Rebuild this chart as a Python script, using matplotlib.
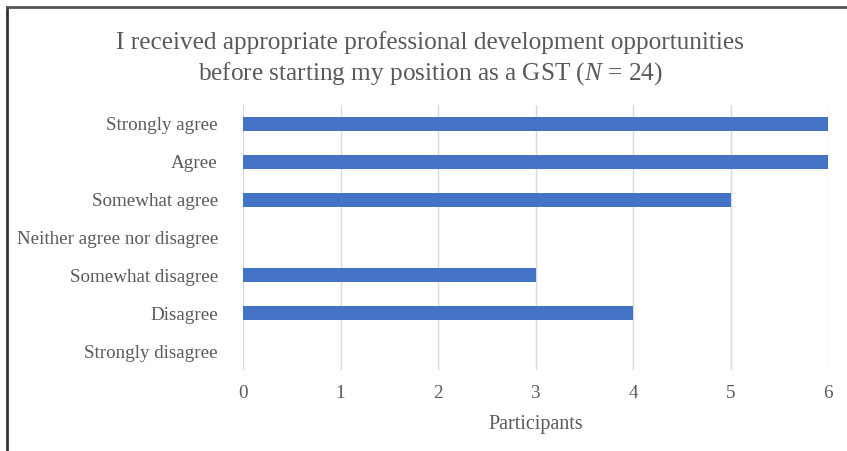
import matplotlib.pyplot as plt
from matplotlib.lines import Line2D

categories = ["Strongly agree", "Agree", "Somewhat agree", "Neither agree nor disagree",
              "Somewhat disagree", "Disagree", "Strongly disagree"]
participants = [6, 6, 5, 0, 3, 4, 0]
x_ticks = [0, 1, 2, 3, 4, 5, 6]

plt.rcParams['font.family'] = ['Liberation Serif', 'DejaVu Serif']
plt.rcParams['mathtext.fontset'] = 'custom'
plt.rcParams['mathtext.it'] = 'Liberation Serif:italic'
plt.rcParams['mathtext.rm'] = 'Liberation Serif'
text_color = '#595959'

fig = plt.figure(figsize=(8.47, 4.51), dpi=100)
ax = fig.add_axes([243 / 847, 1 - 370 / 451, (828 - 243) / 847, (370 - 105) / 451])

pos = list(range(len(categories)))
ax.barh(pos, participants, height=0.37, color='#4472C4', zorder=3)
ax.set_ylim(len(categories) - 0.5, -0.5)
ax.set_yticks(pos)
ax.set_yticklabels(categories)
ax.set_xlim(0, 6)
ax.set_xticks(x_ticks)

ax.grid(axis='x', color='#d9d9d9', linewidth=1, zorder=0)
for s in ax.spines.values():
    s.set_visible(False)
ax.tick_params(axis='both', length=0, labelsize=13.7, labelcolor=text_color)
ax.tick_params(axis='x', pad=11)
ax.tick_params(axis='y', pad=18)
ax.set_xlabel('Participants', fontsize=14.5, color=text_color, labelpad=9)

fig.text(0.508, 1 - 43 / 451, 'I received appropriate professional development opportunities',
         ha='center', va='center', fontsize=18.2, color=text_color)
fig.text(0.508, 1 - 74 / 451, 'before starting my position as a GST ($\\mathit{N}$ = 24)',
         ha='center', va='center', fontsize=18.2, color=text_color)

# figure frame (left and top edges only)
fig.add_artist(Line2D([6.5 / 847, 6.5 / 847], [0, 1 - 7 / 451], transform=fig.transFigure,
                      color='#333333', linewidth=2))
fig.add_artist(Line2D([6.5 / 847, 1], [1 - 7 / 451, 1 - 7 / 451], transform=fig.transFigure,
                      color='#555555', linewidth=2))

fig.savefig('out.png', dpi=100)
